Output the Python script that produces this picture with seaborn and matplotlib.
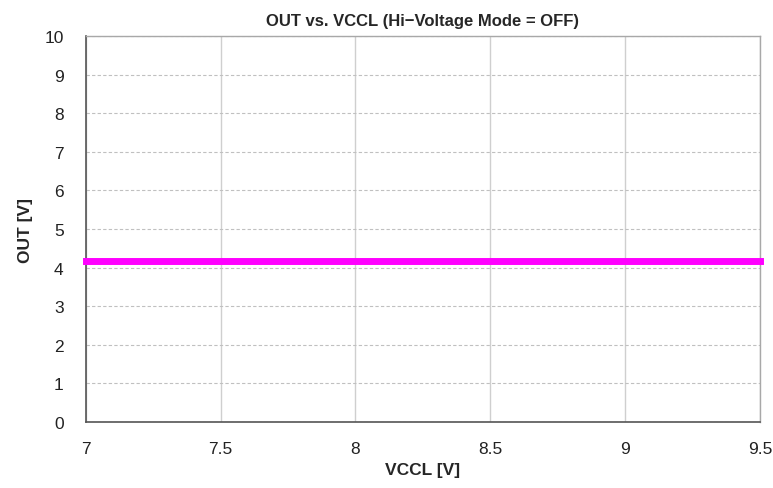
import matplotlib
matplotlib.use("Agg")
import matplotlib.pyplot as plt
import seaborn as sns
import pandas as pd

# Data
vccl = [7.0, 7.25, 7.5, 7.75, 8.0, 8.25, 8.5, 8.75, 9.0, 9.25, 9.5]
out_v = [4.16, 4.16, 4.16, 4.16, 4.16, 4.16, 4.16, 4.16, 4.16, 4.16, 4.16]
x_ticks = [7, 7.5, 8, 8.5, 9, 9.5]
x_tick_labels = ["7", "7.5", "8", "8.5", "9", "9.5"]
y_ticks = [0, 1, 2, 3, 4, 5, 6, 7, 8, 9, 10]

df = pd.DataFrame({"VCCL": vccl, "OUT": out_v})

sns.set_style("white")
plt.rcParams["font.family"] = ["Liberation Sans", "DejaVu Sans"]

fig, ax = plt.subplots(figsize=(7.73, 4.89), dpi=100)
fig.subplots_adjust(left=0.111, right=0.983, top=0.924, bottom=0.135)

sns.lineplot(data=df, x="VCCL", y="OUT", ax=ax, color="#ff00ff", linewidth=5,
             solid_capstyle="projecting", clip_on=False, zorder=5)

ax.set_xlim(7, 9.5)
ax.set_ylim(0, 10)
ax.set_xticks(x_ticks)
ax.set_xticklabels(x_tick_labels)
ax.set_yticks(y_ticks)

# grid: solid vertical, dashed horizontal
ax.xaxis.grid(True, color="#cfcfcf", linestyle="-", linewidth=1)
ax.yaxis.grid(True, color="#c0c0c0", linestyle=(0, (3, 2)), linewidth=0.8)
ax.set_axisbelow(True)

for side in ["left", "bottom"]:
    ax.spines[side].set_color("#555555")
    ax.spines[side].set_linewidth(1.2)
for side in ["top", "right"]:
    ax.spines[side].set_color("#a8a8a8")
    ax.spines[side].set_linewidth(1)

ax.tick_params(axis="both", length=0, labelsize=12.5, colors="#222222")
ax.tick_params(axis="x", pad=14)
ax.tick_params(axis="y", pad=16)

ax.set_title("OUT vs. VCCL (Hi\u2212Voltage Mode = OFF)", fontsize=12,
             fontweight="bold", pad=8)
ax.set_xlabel("VCCL [V]", fontsize=12.5, fontweight="bold", labelpad=4)
ax.set_ylabel("OUT [V]", fontsize=12.5, fontweight="bold", labelpad=8)

plt.savefig("out.png", dpi=100)
